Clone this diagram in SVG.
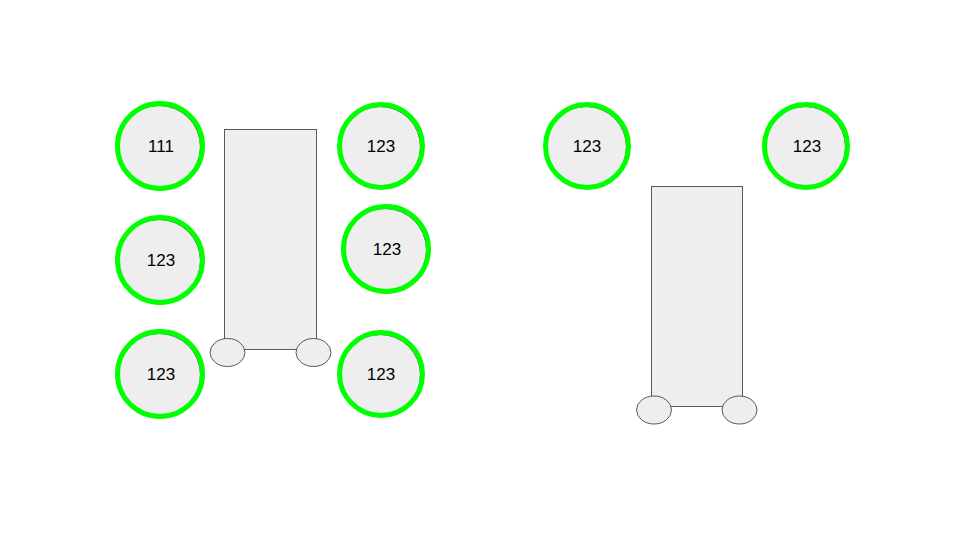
<svg xmlns="http://www.w3.org/2000/svg" width="960" height="540" viewBox="0 0 960 540">
<style>
.bg{fill:#eeeeee;stroke:#595959;stroke-width:1}
.ring{fill:none;stroke:#00ff00;stroke-width:5}
.lbl{font-family:"Liberation Sans",Arial,sans-serif;font-size:17px;fill:#000;text-anchor:middle;dominant-baseline:central}
</style>
<rect width="960" height="540" fill="#fff"/>
<g id="cart-left">
<rect class="bg" x="224.5" y="129.5" width="92" height="220"/>
<ellipse class="bg" cx="227.5" cy="352.5" rx="17.5" ry="14"/>
<ellipse class="bg" cx="313.5" cy="352.5" rx="17.5" ry="14"/>
</g>
<g id="cart-right">
<rect class="bg" x="651.5" y="186.5" width="91" height="220"/>
<ellipse class="bg" cx="654" cy="410" rx="17.5" ry="14"/>
<ellipse class="bg" cx="739.5" cy="410" rx="17.5" ry="14"/>
</g>
<g id="n1"><circle class="bg" cx="159" cy="147" r="41.5"/><circle class="ring" cx="160" cy="146" r="42.5"/><text class="lbl" x="161" y="146">111</text></g>
<g id="n2"><circle class="bg" cx="159" cy="261" r="41.5"/><circle class="ring" cx="160" cy="260" r="42.5"/><text class="lbl" x="161" y="260">123</text></g>
<g id="n3"><circle class="bg" cx="159" cy="375" r="41.5"/><circle class="ring" cx="160" cy="374" r="42.5"/><text class="lbl" x="161" y="374">123</text></g>
<g id="n4"><circle class="bg" cx="380" cy="147" r="40.5"/><circle class="ring" cx="381" cy="146" r="41.5"/><text class="lbl" x="381" y="146">123</text></g>
<g id="n5"><circle class="bg" cx="385" cy="250" r="41.5"/><circle class="ring" cx="386" cy="249" r="42.5"/><text class="lbl" x="387" y="249">123</text></g>
<g id="n6"><circle class="bg" cx="380" cy="375" r="40.5"/><circle class="ring" cx="381" cy="374" r="41.5"/><text class="lbl" x="381" y="374">123</text></g>
<g id="n7"><circle class="bg" cx="586" cy="147" r="40.5"/><circle class="ring" cx="587" cy="146" r="41.5"/><text class="lbl" x="587" y="146">123</text></g>
<g id="n8"><circle class="bg" cx="805" cy="147" r="40.5"/><circle class="ring" cx="806" cy="146" r="41.5"/><text class="lbl" x="807" y="146">123</text></g>
<g id="connectors"/>
</svg>
